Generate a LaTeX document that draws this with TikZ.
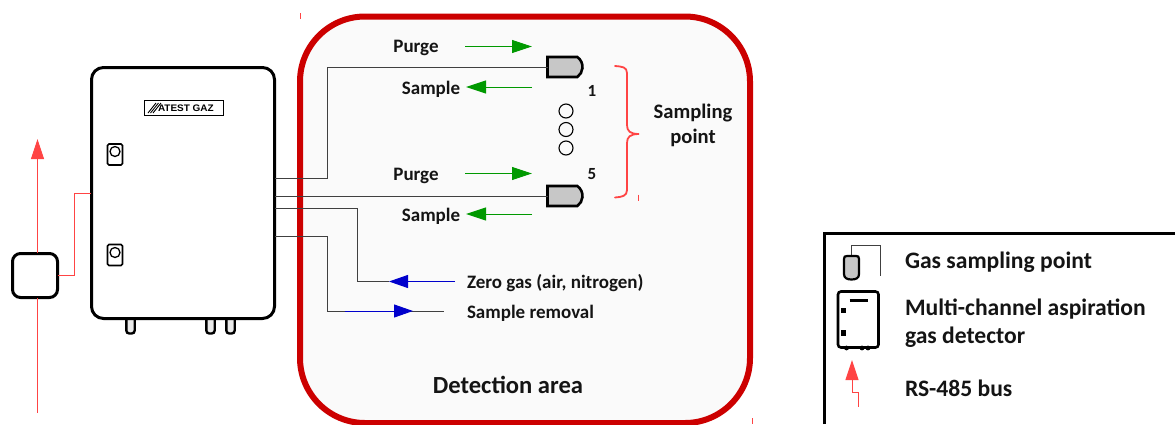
\documentclass[tikz,border=0pt]{standalone}
\usepackage{fontspec}
\setmainfont{Carlito}
\newfontfamily\logofont{Liberation Sans}
\usetikzlibrary{arrows.meta,shapes.misc}
\definecolor{areared}{HTML}{CC0000}
\definecolor{busred}{HTML}{FF4444}
\definecolor{flowgreen}{HTML}{009900}
\definecolor{flowblue}{HTML}{0000CC}
\definecolor{pipe}{HTML}{404040}
\tikzset{
  every node/.style={outer sep=0pt},
  lbl/.style={font=\fontsize{19}{23}\selectfont\bfseries,text=black!92,inner sep=0pt},
  lblbig/.style={font=\fontsize{24.6}{29}\selectfont\bfseries,text=black!92,inner sep=0pt},
  lbllegend/.style={font=\fontsize{23.6}{28}\selectfont\bfseries,text=black!92,inner sep=0pt,anchor=west},
  pipeline/.style={draw=pipe,line width=1pt},
  bus/.style={draw=busred,line width=1pt},
  greenflow/.style={draw=flowgreen,line width=1pt,-{Triangle[length=20pt,width=13pt,fill=flowgreen]}},
  blueflow/.style={draw=flowblue,line width=1pt,-{Triangle[length=19pt,width=13pt,fill=flowblue]}},
  busarrow/.style={draw=busred,line width=1pt,-{Triangle[length=20pt,width=13pt,fill=busred]}},
  sensorbox/.style={rounded rectangle,rounded rectangle left arc=none,rounded rectangle arc length=110,draw=black,fill=black!22,line width=2.6pt,minimum width=35pt,minimum height=20pt,inner sep=0pt},
  lamp/.style={draw=black,fill=white,line width=1.6pt,rounded corners=1.5pt,minimum width=15pt,minimum height=21pt,inner sep=0pt},
  foot/.style={draw=black,fill=black!8,line width=2.4pt,rounded corners=3pt},
  dotmark/.style={circle,draw=black,line width=1.1pt,minimum size=14pt,inner sep=0pt},
}
\begin{document}
\begin{tikzpicture}[x=1pt,y=-1pt]
\useasboundingbox (0,0) rectangle (1175,424);
% detection area
\begin{scope}
\clip (0,0) rectangle (1175,424);
\node[draw=areared,fill=black!2,line width=6pt,rounded corners=65pt,minimum width=450pt,minimum height=406.5pt,inner sep=0pt,anchor=north west] (areabox) at (300,16.5) {};
\end{scope}
\foreach \tx/\ty in {300/16,638.5/197.5,752/421} \draw[draw=busred,line width=.7pt] (\tx,\ty-3) -- (\tx,\ty+3);
% feet behind device
\foreach \fx in {130.5,210.5,230.5}
  \draw[foot] (\fx-4.2,316) -- (\fx-4.2,333.5) -- (\fx+4.2,333.5) -- (\fx+4.2,316);
% device
\node[draw=black,fill=white,line width=3pt,rounded corners=12pt,minimum width=183pt,minimum height=251pt,inner sep=0pt,anchor=north west] (dev) at (91.5,67.5) {};
\node[draw=black,line width=.9pt,minimum width=79pt,minimum height=15pt,inner sep=0pt] (logo) at (183.5,108) {};
\node[font=\logofont\fontsize{9.5}{9.5}\selectfont\bfseries,inner sep=0pt,anchor=west,xscale=1.05] (logotext) at (158,108.5) {ATEST GAZ};
\foreach \lx in {0,2.5,5}
  \draw[line width=.9pt] (148+\lx,113) -- (156+\lx,103);
\node[lamp] (lamp1) at (115,154.5) {};
\node[dotmark,minimum size=10pt,line width=1.3pt] (lampc1) at (115,151.5) {};
\node[lamp] (lamp2) at (115,255) {};
\node[dotmark,minimum size=10pt,line width=1.3pt] (lampc2) at (115,252.5) {};
% junction
\node[draw=black,fill=white,line width=3pt,rounded corners=8pt,minimum width=45pt,minimum height=44pt,inner sep=0pt] (junc) at (35,275.5) {};
\coordinate (busA) at (37.5,139);
\coordinate (busB) at (37,413);
\coordinate (devbus) at (91,193.5);
\draw[busarrow] (37.5,253) -- (busA);
\draw[bus] (37,298) -- (busB);
\draw[bus] (junc.east) -- (74,275.5) |- (devbus);
% sensors
\node[sensorbox] (s1) at (565,67) {};
\node[sensorbox] (s5) at (565,196) {};
% pipes
\coordinate (d1) at (275,178);
\coordinate (d2) at (275,196);
\coordinate (d3) at (275,208);
\coordinate (d4) at (275,236);
\coordinate (zero) at (455,281.5);
\coordinate (zerotip) at (389,281.5);
\coordinate (rem) at (444,311);
\coordinate (remA) at (345,311);
\coordinate (remB) at (413,311);
\draw[pipeline] (d1) -- (327,178) |- (s1.west);
\draw[pipeline] (d2) -- (s5.west);
\draw[pipeline] (d3) -- (357,208) |- (zerotip);
\draw[pipeline] (d4) -- (327,236) |- (rem);
\draw[blueflow] (zero) -- (zerotip);
\draw[blueflow] (remA) -- (remB);
% green flows
\foreach \n/\y in {a/46.5,b/173.5}{
  \coordinate (pf\n) at (465,\y); \coordinate (pt\n) at (532,\y);
  \draw[greenflow] (pf\n) -- (pt\n);
}
\foreach \n/\y in {a/87,b/214}{
  \coordinate (sf\n) at (532,\y); \coordinate (st\n) at (466,\y);
  \draw[greenflow] (sf\n) -- (st\n);
}
\node[lbl] (purge1) at (416,47.5) {Purge};
\node[lbl] (purge5) at (416,175.5) {Purge};
\node[lbl] (sample1) at (431,89) {Sample};
\node[lbl] (sample5) at (431,216) {Sample};
\node[lbl,font=\fontsize{17}{20}\selectfont\bfseries] (n1) at (592,91) {1};
\node[lbl,font=\fontsize{17}{20}\selectfont\bfseries] (n5) at (592,174.5) {5};
\foreach \n/\y in {a/111,b/129.5,c/148} \node[dotmark] (dot\n) at (566,\y) {};
% brace
\draw[draw=busred,line width=1.8pt,line cap=round] (615,66) .. controls (622,66.5) and (627,67) .. (627,73)
  -- (627,125) .. controls (627,131) and (630,134) .. (639,134)
  .. controls (630,134) and (627,137) .. (627,143)
  -- (627,190) .. controls (627,196) and (622,197) .. (615,197.5);
\node[lbl,font=\fontsize{20.6}{25.5}\selectfont\bfseries,align=center] (sampling) at (693,125.5) {Sampling\\point};
\node[lbl,anchor=west] (zerolbl) at (467,283) {Zero gas (air, nitrogen)};
\node[lbl,anchor=west] (remlbl) at (467,313) {Sample removal};
\node[lblbig] (arealbl) at (508,385) {Detection area};
% legend
\draw[black,line width=3pt] (824.5,424) -- (824.5,233.5) -- (1175,233.5);
\draw[pipeline] (851.5,256) -- (851.5,245) -- (880,245) -- (880,276);
\draw[draw=black,fill=black!22,line width=2.2pt] (844,259) .. controls (844,256.5) and (845,256) .. (847,256) -- (856,256) .. controls (858,256) and (859,256.5) .. (859,259) -- (859,274) .. controls (859,278) and (856,279.5) .. (851.5,279.5) .. controls (847,279.5) and (844,278) .. (844,274) -- cycle;
\node[lbllegend] (l1) at (905,262) {Gas sampling point};
\draw[draw=black,line width=2.6pt,rounded corners=3pt] (838,291.5) rectangle (878.5,347.5);
\draw[line width=2.5pt] (849.5,300.5) -- (868,300.5);
\fill[black] (841,308) rectangle (846,313);
\fill[black] (841,330) rectangle (846,336);
\foreach \fx in {846.5,862,868} \fill (\fx,348) circle (2.4pt);
\node[lbllegend] (l2) at (905,309) {Multi-channel aspiration};
\node[lbllegend] (l3) at (905,337) {gas detector};
\coordinate (ltip) at (852,360);
\coordinate (lbot) at (858,407);
\draw[busarrow] (852,392) -- (ltip);
\draw[bus] (852,392) -- (858,392) -- (lbot);
\node[lbllegend] (l4) at (905,388.5) {RS-485 bus};
\end{tikzpicture}
\end{document}
